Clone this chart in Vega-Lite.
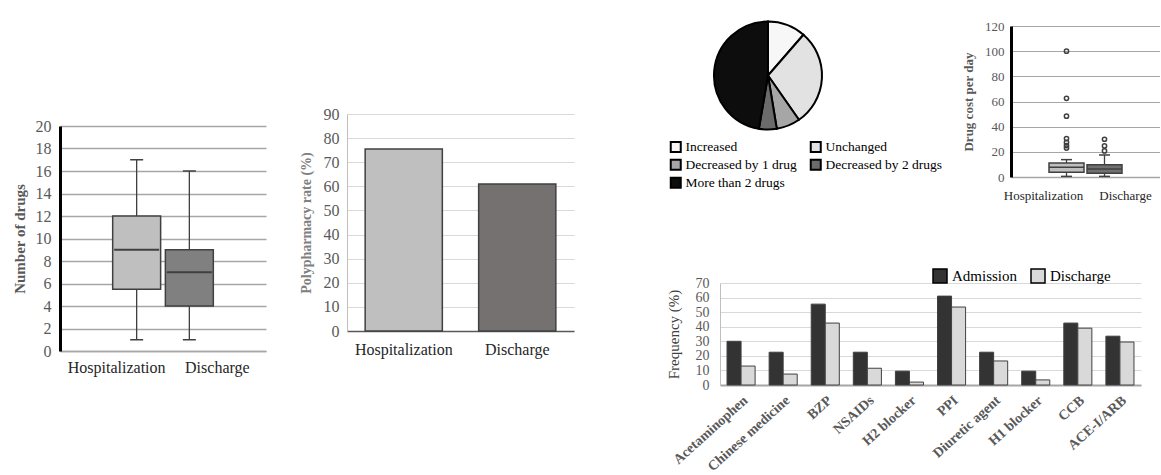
{
  "$schema": "https://vega.github.io/schema/vega-lite/v6.json",
  "background": "white",
  "padding": {"left": 12, "top": 17, "right": 0, "bottom": 0},
  "config": {
    "view": {"stroke": null},
    "font": "Liberation Serif",
    "axis": {"labelFont": "Liberation Serif", "titleFont": "Liberation Serif", "labelOverlap": false},
    "legend": {"labelFont": "Liberation Serif"}
  },
  "datasets": {
    "boxA": [
      {"group": "Hospitalization", "lower": 1, "q1": 5.5, "median": 9, "q3": 12, "upper": 17},
      {"group": "Discharge", "lower": 1, "q1": 4, "median": 7, "q3": 9, "upper": 16}
    ],
    "polyB": [
      {"group": "Hospitalization", "rate": 75.5},
      {"group": "Discharge", "rate": 61}
    ],
    "pieC": [
      {"change": "Increased", "pct": 11.4, "o": 1},
      {"change": "Unchanged", "pct": 28.9, "o": 2},
      {"change": "Decreased by 1 drug", "pct": 7.1, "o": 3},
      {"change": "Decreased by 2 drugs", "pct": 5.3, "o": 4},
      {"change": "More than 2 drugs", "pct": 47.3, "o": 5}
    ],
    "boxD": [
      {"group": "Hospitalization", "lower": 0.5, "q1": 3.7, "median": 7.7, "q3": 11.1, "upper": 13.8},
      {"group": "Discharge", "lower": 0.5, "q1": 2.9, "median": 6.4, "q3": 9.8, "upper": 17.5}
    ],
    "outD": [
      {"group": "Hospitalization", "cost": 100},
      {"group": "Hospitalization", "cost": 62.5},
      {"group": "Hospitalization", "cost": 48.3},
      {"group": "Hospitalization", "cost": 30.5},
      {"group": "Hospitalization", "cost": 27.5},
      {"group": "Hospitalization", "cost": 25},
      {"group": "Hospitalization", "cost": 23},
      {"group": "Discharge", "cost": 30},
      {"group": "Discharge", "cost": 24.7},
      {"group": "Discharge", "cost": 20.7}
    ],
    "freqE": [
      {"drug": "Acetaminophen", "time": "Admission", "freq": 30},
      {"drug": "Acetaminophen", "time": "Discharge", "freq": 13},
      {"drug": "Chinese medicine", "time": "Admission", "freq": 22.5},
      {"drug": "Chinese medicine", "time": "Discharge", "freq": 7.5},
      {"drug": "BZP", "time": "Admission", "freq": 55.5},
      {"drug": "BZP", "time": "Discharge", "freq": 42.5},
      {"drug": "NSAIDs", "time": "Admission", "freq": 22.5},
      {"drug": "NSAIDs", "time": "Discharge", "freq": 11.5},
      {"drug": "H2 blocker", "time": "Admission", "freq": 9.5},
      {"drug": "H2 blocker", "time": "Discharge", "freq": 2},
      {"drug": "PPI", "time": "Admission", "freq": 61},
      {"drug": "PPI", "time": "Discharge", "freq": 53.5},
      {"drug": "Diuretic agent", "time": "Admission", "freq": 22.5},
      {"drug": "Diuretic agent", "time": "Discharge", "freq": 16.5},
      {"drug": "H1 blocker", "time": "Admission", "freq": 9.5},
      {"drug": "H1 blocker", "time": "Discharge", "freq": 3.5},
      {"drug": "CCB", "time": "Admission", "freq": 42.5},
      {"drug": "CCB", "time": "Discharge", "freq": 39},
      {"drug": "ACE-I/ARB", "time": "Admission", "freq": 33.5},
      {"drug": "ACE-I/ARB", "time": "Discharge", "freq": 29.5}
    ]
  },
  "spacing": 0,
  "resolve": {"scale": {"color": "independent"}, "legend": {"color": "independent"}},
  "hconcat": [
    {
      "spacing": 0,
      "resolve": {"scale": {"color": "independent"}, "legend": {"color": "independent"}},
      "vconcat": [
        {"width": 1, "height": 92, "data": {"values": []}, "mark": "point"},
        {
          "width": 206,
          "height": 225,
          "data": {"name": "boxA"},
          "encoding": {
            "x": {
              "field": "group", "type": "nominal", "sort": ["Hospitalization", "Discharge"],
              "scale": {"paddingInner": 0.09, "paddingOuter": 1.1},
              "axis": {
                "title": null, "labelAngle": 0, "ticks": false, "grid": false,
                "domainColor": "#a6a6a6", "domainWidth": 1.3,
                "labelFontSize": 16, "labelColor": "#262626", "labelPadding": 8,
                "labelOffset": {"condition": {"test": "datum.value === 'Hospitalization'", "value": -20}, "value": 28}
              }
            }
          },
          "layer": [
            {
              "mark": {"type": "rule", "color": "#404040", "strokeWidth": 1.3},
              "encoding": {
                "y": {
                  "field": "lower", "type": "quantitative", "title": "Number of drugs",
                  "scale": {"domain": [0, 20]},
                  "axis": {"values": [0, 2, 4, 6, 8, 10, 12, 14, 16, 18, 20], "labelOverlap": false, "grid": true, "gridColor": "#a6a6a6", "gridWidth": 1.3, "domainColor": "#000000", "domainWidth": 3, "ticks": false, "labelFontSize": 16, "labelColor": "#595959", "labelPadding": 9, "titleFontSize": 15, "titleFontWeight": "bold", "titleColor": "#595959", "titlePadding": 8}
                },
                "y2": {"field": "upper"}
              }
            },
            {
              "mark": {"type": "bar", "stroke": "#404040", "strokeWidth": 1.5},
              "encoding": {
                "y": {
                  "field": "q1", "type": "quantitative", "title": "Number of drugs",
                  "axis": {"values": [0, 2, 4, 6, 8, 10, 12, 14, 16, 18, 20], "labelOverlap": false, "grid": true, "gridColor": "#a6a6a6", "gridWidth": 1.3, "domainColor": "#000000", "domainWidth": 3, "ticks": false, "labelFontSize": 16, "labelColor": "#595959", "labelPadding": 9, "titleFontSize": 15, "titleFontWeight": "bold", "titleColor": "#595959", "titlePadding": 8}
                },
                "y2": {"field": "q3"},
                "color": {
                  "field": "group", "type": "nominal",
                  "scale": {"domain": ["Hospitalization", "Discharge"], "range": ["#bfbfbf", "#808080"]},
                  "legend": null
                }
              }
            },
            {
              "mark": {"type": "tick", "color": "#404040", "opacity": 1, "size": 45, "thickness": 2},
              "encoding": {
                "y": {
                  "field": "median", "type": "quantitative", "title": "Number of drugs",
                  "axis": {"values": [0, 2, 4, 6, 8, 10, 12, 14, 16, 18, 20], "labelOverlap": false, "grid": true, "gridColor": "#a6a6a6", "gridWidth": 1.3, "domainColor": "#000000", "domainWidth": 3, "ticks": false, "labelFontSize": 16, "labelColor": "#595959", "labelPadding": 9, "titleFontSize": 15, "titleFontWeight": "bold", "titleColor": "#595959", "titlePadding": 8}
                }
              }
            },
            {
              "mark": {"type": "tick", "color": "#404040", "opacity": 1, "size": 13, "thickness": 1.5},
              "encoding": {
                "y": {
                  "field": "lower", "type": "quantitative", "title": "Number of drugs",
                  "axis": {"values": [0, 2, 4, 6, 8, 10, 12, 14, 16, 18, 20], "labelOverlap": false, "grid": true, "gridColor": "#a6a6a6", "gridWidth": 1.3, "domainColor": "#000000", "domainWidth": 3, "ticks": false, "labelFontSize": 16, "labelColor": "#595959", "labelPadding": 9, "titleFontSize": 15, "titleFontWeight": "bold", "titleColor": "#595959", "titlePadding": 8}
                }
              }
            },
            {
              "mark": {"type": "tick", "color": "#404040", "opacity": 1, "size": 13, "thickness": 1.5},
              "encoding": {
                "y": {
                  "field": "upper", "type": "quantitative", "title": "Number of drugs",
                  "axis": {"values": [0, 2, 4, 6, 8, 10, 12, 14, 16, 18, 20], "labelOverlap": false, "grid": true, "gridColor": "#a6a6a6", "gridWidth": 1.3, "domainColor": "#000000", "domainWidth": 3, "ticks": false, "labelFontSize": 16, "labelColor": "#595959", "labelPadding": 9, "titleFontSize": 15, "titleFontWeight": "bold", "titleColor": "#595959", "titlePadding": 8}
                }
              }
            }
          ]
        }
      ]
    },
    {"width": 33, "height": 1, "data": {"values": []}, "mark": "point"},
    {
      "spacing": 0,
      "resolve": {"scale": {"color": "independent"}, "legend": {"color": "independent"}},
      "vconcat": [
        {"width": 1, "height": 80, "data": {"values": []}, "mark": "point"},
        {
          "width": 227,
          "height": 217,
          "data": {"name": "polyB"},
          "mark": {"type": "bar", "stroke": "#404040", "strokeWidth": 1.5},
          "encoding": {
            "x": {
              "field": "group", "type": "nominal", "sort": ["Hospitalization", "Discharge"],
              "scale": {"paddingInner": 0.32, "paddingOuter": 0.16},
              "axis": {
                "title": null, "labelAngle": 0, "ticks": false,
                "domainColor": "#595959", "domainWidth": 1.5,
                "labelFontSize": 16, "labelColor": "#262626", "labelPadding": 10
              }
            },
            "y": {
              "field": "rate", "type": "quantitative", "scale": {"domain": [0, 90]},
              "axis": {
                "title": "Polypharmacy rate (%)",
                "values": [0, 10, 20, 30, 40, 50, 60, 70, 80, 90],
                "gridColor": "#d9d9d9", "domainColor": "#bfbfbf", "ticks": false,
                "labelFontSize": 16, "labelColor": "#595959", "labelPadding": 8,
                "titleFontSize": 14, "titleFontWeight": "bold", "titleColor": "#808080", "titlePadding": 10
              }
            },
            "color": {
              "field": "group", "type": "nominal",
              "scale": {"domain": ["Hospitalization", "Discharge"], "range": ["#bfbfbf", "#767171"]},
              "legend": null
            }
          }
        }
      ]
    },
    {"width": 92, "height": 1, "data": {"values": []}, "mark": "point"},
    {
      "spacing": 66,
      "resolve": {"scale": {"color": "independent"}, "legend": {"color": "independent"}},
      "vconcat": [
        {
          "spacing": 19,
          "resolve": {"scale": {"color": "independent"}, "legend": {"color": "independent"}},
          "hconcat": [
            {
              "width": 96,
              "height": 99,
              "data": {"name": "pieC"},
              "mark": {"type": "arc", "outerRadius": 54, "stroke": "#000000", "strokeWidth": 2},
              "encoding": {
                "theta": {"field": "pct", "type": "quantitative", "stack": true},
                "order": {"field": "o", "type": "quantitative"},
                "color": {
                  "field": "change", "type": "nominal",
                  "scale": {
                    "domain": ["Increased", "Unchanged", "Decreased by 1 drug", "Decreased by 2 drugs", "More than 2 drugs"],
                    "range": ["#f7f7f7", "#e2e2e2", "#a6a6a6", "#6b6b6b", "#0d0d0d"]
                  },
                  "legend": {
                    "orient": "none", "legendX": -51, "legendY": 114, "columns": 2, "direction": "horizontal",
                    "title": null, "symbolType": "square", "symbolSize": 100,
                    "symbolStrokeColor": "#000000", "symbolStrokeWidth": 2,
                    "labelFontSize": 13.5, "labelColor": "#000000", "columnPadding": 9, "rowPadding": -1, "labelOffset": 3
                  }
                }
              }
            },
            {
              "width": 149,
              "height": 151,
              "encoding": {
                "x": {
                  "field": "group", "type": "nominal", "sort": ["Hospitalization", "Discharge"],
                  "scale": {"paddingInner": 0.079, "paddingOuter": 1.013},
                  "axis": {
                    "title": null, "labelAngle": 0, "ticks": false, "grid": false,
                    "domainColor": "#a6a6a6", "domainWidth": 1.3,
                    "labelFontSize": 13, "labelColor": "#262626", "labelPadding": 12,
                    "labelOffset": {"condition": {"test": "datum.value === 'Hospitalization'", "value": -23}, "value": 21}
                  }
                }
              },
              "layer": [
                {
                  "data": {"name": "boxD"},
                  "mark": {"type": "rule", "color": "#404040", "strokeWidth": 1.3},
                  "encoding": {
                    "y": {
                      "field": "lower", "type": "quantitative", "title": "Drug cost per day",
                      "scale": {"domain": [0, 120]},
                      "axis": {"values": [0, 20, 40, 60, 80, 100, 120], "labelOverlap": false, "grid": true, "gridColor": "#a6a6a6", "gridWidth": 1.2, "domainColor": "#000000", "domainWidth": 3, "ticks": false, "labelFontSize": 13, "labelColor": "#595959", "labelPadding": 7, "titleFontSize": 13, "titleFontWeight": "bold", "titleColor": "#595959", "titlePadding": 9}
                    },
                    "y2": {"field": "upper"}
                  }
                },
                {
                  "data": {"name": "boxD"},
                  "mark": {"type": "bar", "stroke": "#404040", "strokeWidth": 1.5},
                  "encoding": {
                    "y": {
                      "field": "q1", "type": "quantitative", "title": "Drug cost per day",
                      "axis": {"values": [0, 20, 40, 60, 80, 100, 120], "labelOverlap": false, "grid": true, "gridColor": "#a6a6a6", "gridWidth": 1.2, "domainColor": "#000000", "domainWidth": 3, "ticks": false, "labelFontSize": 13, "labelColor": "#595959", "labelPadding": 7, "titleFontSize": 13, "titleFontWeight": "bold", "titleColor": "#595959", "titlePadding": 9}
                    },
                    "y2": {"field": "q3"},
                    "color": {
                      "field": "group", "type": "nominal",
                      "scale": {"domain": ["Hospitalization", "Discharge"], "range": ["#bfbfbf", "#707070"]},
                      "legend": null
                    }
                  }
                },
                {
                  "data": {"name": "boxD"},
                  "mark": {"type": "tick", "color": "#404040", "opacity": 1, "size": 35, "thickness": 1.5},
                  "encoding": {
                    "y": {
                      "field": "median", "type": "quantitative", "title": "Drug cost per day",
                      "axis": {"values": [0, 20, 40, 60, 80, 100, 120], "labelOverlap": false, "grid": true, "gridColor": "#a6a6a6", "gridWidth": 1.2, "domainColor": "#000000", "domainWidth": 3, "ticks": false, "labelFontSize": 13, "labelColor": "#595959", "labelPadding": 7, "titleFontSize": 13, "titleFontWeight": "bold", "titleColor": "#595959", "titlePadding": 9}
                    }
                  }
                },
                {
                  "data": {"name": "boxD"},
                  "mark": {"type": "tick", "color": "#404040", "opacity": 1, "size": 11, "thickness": 1.5},
                  "encoding": {
                    "y": {
                      "field": "lower", "type": "quantitative", "title": "Drug cost per day",
                      "axis": {"values": [0, 20, 40, 60, 80, 100, 120], "labelOverlap": false, "grid": true, "gridColor": "#a6a6a6", "gridWidth": 1.2, "domainColor": "#000000", "domainWidth": 3, "ticks": false, "labelFontSize": 13, "labelColor": "#595959", "labelPadding": 7, "titleFontSize": 13, "titleFontWeight": "bold", "titleColor": "#595959", "titlePadding": 9}
                    }
                  }
                },
                {
                  "data": {"name": "boxD"},
                  "mark": {"type": "tick", "color": "#404040", "opacity": 1, "size": 11, "thickness": 1.5},
                  "encoding": {
                    "y": {
                      "field": "upper", "type": "quantitative", "title": "Drug cost per day",
                      "axis": {"values": [0, 20, 40, 60, 80, 100, 120], "labelOverlap": false, "grid": true, "gridColor": "#a6a6a6", "gridWidth": 1.2, "domainColor": "#000000", "domainWidth": 3, "ticks": false, "labelFontSize": 13, "labelColor": "#595959", "labelPadding": 7, "titleFontSize": 13, "titleFontWeight": "bold", "titleColor": "#595959", "titlePadding": 9}
                    }
                  }
                },
                {
                  "data": {"name": "outD"},
                  "mark": {"type": "point", "shape": "circle", "filled": false, "size": 18, "color": "#404040", "strokeWidth": 1.5, "opacity": 1},
                  "encoding": {
                    "y": {
                      "field": "cost", "type": "quantitative", "title": "Drug cost per day",
                      "axis": {"values": [0, 20, 40, 60, 80, 100, 120], "labelOverlap": false, "grid": true, "gridColor": "#a6a6a6", "gridWidth": 1.2, "domainColor": "#000000", "domainWidth": 3, "ticks": false, "labelFontSize": 13, "labelColor": "#595959", "labelPadding": 7, "titleFontSize": 13, "titleFontWeight": "bold", "titleColor": "#595959", "titlePadding": 9}
                    }
                  }
                }
              ]
            }
          ]
        },
        {
          "width": 421,
          "height": 102,
          "data": {"name": "freqE"},
          "mark": {"type": "bar", "stroke": "#404040", "strokeWidth": 1},
          "encoding": {
            "x": {
              "field": "drug", "type": "nominal", "sort": null,
              "scale": {"paddingInner": 0.333, "paddingOuter": 0.167},
              "axis": {
                "title": null, "labelAngle": -42, "ticks": false,
                "domainColor": "#a6a6a6", "domainWidth": 2,
                "labelFontSize": 14, "labelFontWeight": "bold", "labelColor": "#595959", "labelPadding": 8
              }
            },
            "xOffset": {
              "field": "time", "type": "nominal", "sort": ["Admission", "Discharge"],
              "scale": {"paddingInner": 0, "paddingOuter": 0}
            },
            "y": {
              "field": "freq", "type": "quantitative", "scale": {"domain": [0, 70]},
              "axis": {
                "title": "Frequency (%)",
                "values": [0, 10, 20, 30, 40, 50, 60, 70],
                "gridColor": "#d9d9d9", "domainColor": "#bfbfbf", "ticks": false,
                "labelFontSize": 14, "labelColor": "#595959", "labelPadding": 11,
                "titleFontSize": 15, "titleFontWeight": "normal", "titleColor": "#404040", "titlePadding": 14
              }
            },
            "color": {
              "field": "time", "type": "nominal",
              "scale": {"domain": ["Admission", "Discharge"], "range": ["#333333", "#d9d9d9"]},
              "legend": {
                "orient": "none", "legendX": 212, "legendY": -15, "direction": "horizontal",
                "title": null, "symbolType": "square", "symbolSize": 196,
                "symbolStrokeColor": "#000000", "symbolStrokeWidth": 1.5,
                "labelFontSize": 15, "labelColor": "#000000", "columnPadding": 10, "labelOffset": 4
              }
            }
          }
        }
      ]
    }
  ]
}
